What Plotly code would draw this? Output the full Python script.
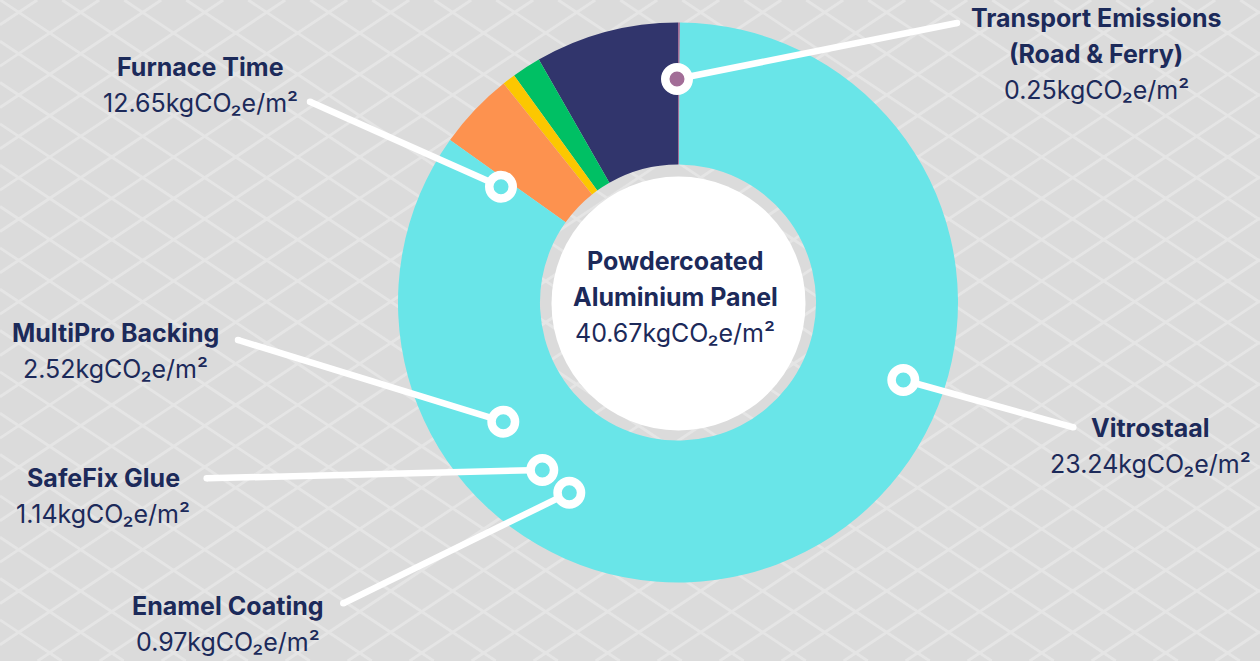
import plotly.graph_objects as go

W, H = 1260, 661

# ---- data ----
# slice shares (percent of the ring, as drawn), counter-clockwise from 12 o'clock
slice_names = ["Transport Emissions", "Slice 2", "Slice 3", "Slice 4", "Slice 5", "Vitrostaal"]
slice_shares = [0.11, 8.28, 1.67, 0.75, 4.44, 84.75]
slice_colors = ["#a26d97", "#31356c", "#00c064", "#fcc700", "#fd924f", "#69e5e8"]

# callout labels and their values
label_names = ["Transport Emissions<br>(Road & Ferry)", "Furnace Time", "MultiPro Backing",
               "SafeFix Glue", "Enamel Coating", "Vitrostaal"]
label_values = [0.25, 12.65, 2.52, 1.14, 0.97, 23.24]
total_name = "Powdercoated<br>Aluminium Panel"
total_value = 40.67
unit = "kgCO\u2082e/m\u00b2"

# ---- layout constants (pixels) ----
CX, CY, R = 678, 302.5, 280
HOLE = 0.493
WHITE_R, WHITE_CX, WHITE_CY = 127, 678.5, 303.5
TEXT = "#1c2a5a"
FONT = "Inter"
FS_B = 25
FS_R = 25
LINE_STEP = 36

# label anchor: centre x, first baseline y
label_pos = [(1096, 26.7), (200, 76), (115, 341.7), (103, 487.3), (227.5, 615), (1150, 436.7)]
# pointer: label end, ring centre, ring fill
pointers = [((957, 23), (677, 79), "#a26d97"),
            ((310, 101.7), (501, 186.7), "#69e5e8"),
            ((238, 340), (503.3, 421.7), "#69e5e8"),
            ((206.7, 478.3), (542.3, 470), "#69e5e8"),
            ((343.3, 603.3), (569.3, 492.7), "#69e5e8"),
            ((1073.3, 427.3), (903.3, 380), "#69e5e8")]

fig = go.Figure()


# background lattice: two families of parallel lines, clipped to the canvas
def lattice_family(x_at_top, s, period):
    xs, ys = [], []
    for k in range(-60, 60):
        x0 = x_at_top + period * k
        ya = (0 - x0) / s
        yb = (W - x0) / s
        ylo = max(0.0, min(ya, yb))
        yhi = min(float(H), max(ya, yb))
        if ylo < yhi:
            xs += [x0 + s * ylo, x0 + s * yhi, None]
            ys += [ylo, yhi, None]
    return xs, ys


for x_top, s in [(0.2, 1.5), (37.2, -1.5)]:
    xs, ys = lattice_family(x_top, s, 62)
    fig.add_trace(go.Scatter(x=xs, y=ys, mode="lines",
                             line=dict(color="#e5e5e5", width=2.8, simplify=False),
                             hoverinfo="skip", showlegend=False))

fig.add_trace(go.Pie(
    labels=slice_names, values=slice_shares, sort=False, direction="counterclockwise",
    rotation=0, hole=HOLE, marker=dict(colors=slice_colors, line=dict(width=0)),
    textinfo="none", hoverinfo="label+percent", showlegend=False,
    domain=dict(x=[(CX - R) / W, (CX + R) / W], y=[(H - CY - R) / H, (H - CY + R) / H]),
))

shapes = []
shapes.append(dict(type="circle", xref="x", yref="y", layer="above",
                   x0=WHITE_CX - WHITE_R, x1=WHITE_CX + WHITE_R,
                   y0=WHITE_CY - WHITE_R, y1=WHITE_CY + WHITE_R,
                   fillcolor="white", line=dict(width=0)))
LW = 6.5
for (ex, ey), (mx, my), fill in pointers:
    shapes.append(dict(type="line", xref="x", yref="y", layer="above", x0=ex, y0=ey, x1=mx, y1=my,
                       line=dict(color="white", width=LW)))
    rc = LW / 2
    shapes.append(dict(type="circle", xref="x", yref="y", layer="above",
                       x0=ex - rc, x1=ex + rc, y0=ey - rc, y1=ey + rc,
                       fillcolor="white", line=dict(width=0)))
for (ex, ey), (mx, my), fill in pointers:
    rr = 11.75
    shapes.append(dict(type="circle", xref="x", yref="y", layer="above",
                       x0=mx - rr, x1=mx + rr, y0=my - rr, y1=my + rr,
                       fillcolor=fill, line=dict(color="white", width=8.5)))

annotations = []


def add_lines(x, y0, lines):
    for i, (txt, bold) in enumerate(lines):
        fs = FS_B if bold else FS_R
        t = f"<b>{txt}</b>" if bold else txt
        annotations.append(dict(xref="x", yref="y", x=x, y=y0 + i * LINE_STEP - 0.36 * fs,
                                text=t, showarrow=False, xanchor="center", yanchor="middle",
                                font=dict(family=FONT, size=fs, color=TEXT)))


for name, val, (px, py) in zip(label_names, label_values, label_pos):
    parts = [(p, True) for p in name.split("<br>")]
    parts.append((f"{val:.2f}{unit}", False))
    add_lines(px, py, parts)

cparts = [(p, True) for p in total_name.split("<br>")]
cparts.append((f"{total_value:.2f}{unit}", False))
add_lines(675, 270, cparts)

fig.update_layout(
    width=W, height=H, margin=dict(l=0, r=0, t=0, b=0),
    paper_bgcolor="#dbdbdb", plot_bgcolor="#dbdbdb",
    xaxis=dict(range=[0, W], visible=False, fixedrange=True),
    yaxis=dict(range=[H, 0], visible=False, fixedrange=True),
    shapes=shapes, annotations=annotations, showlegend=False,
)

fig.write_html("out.html", config={"displayModeBar": False},
               post_script="document.body.style.margin='0';document.body.style.overflow='hidden';")
